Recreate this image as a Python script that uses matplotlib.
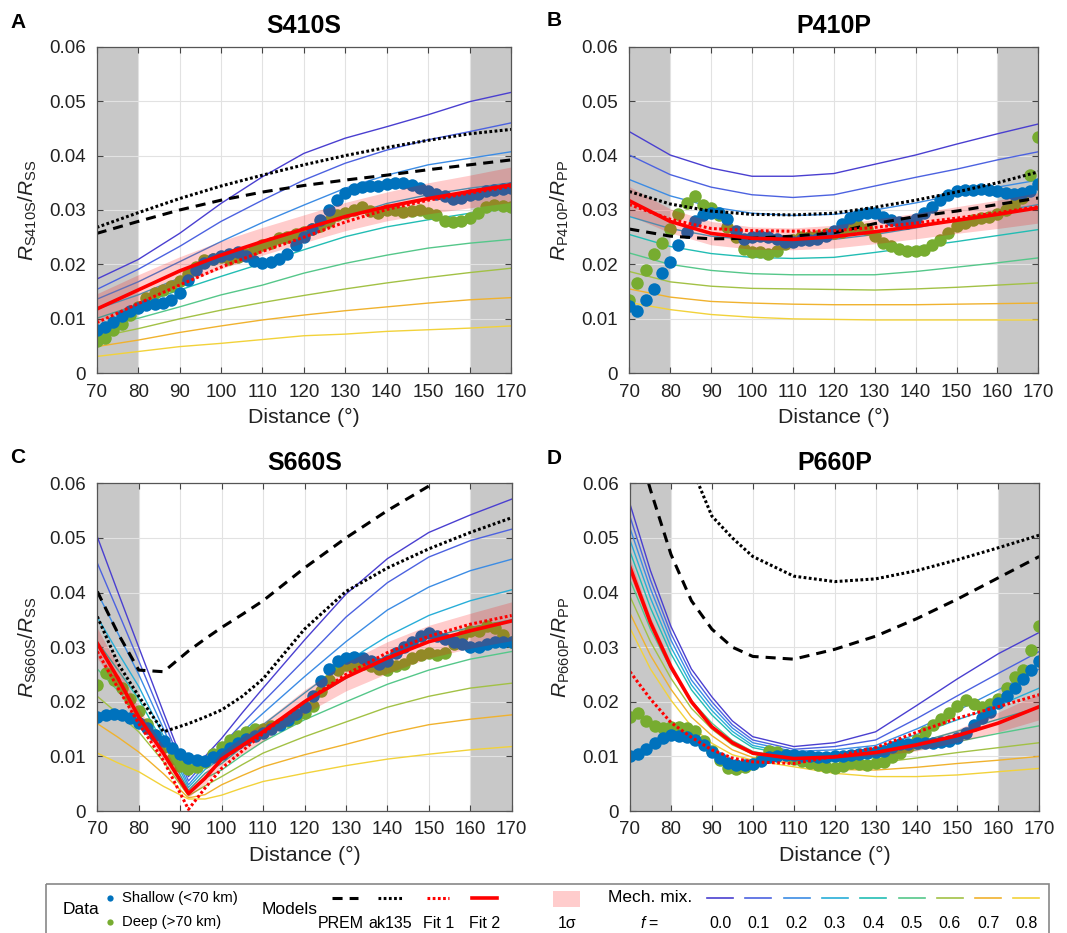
import numpy as np
import matplotlib
matplotlib.use('Agg')
import matplotlib.pyplot as plt
from matplotlib.patches import Rectangle
from matplotlib.ticker import FuncFormatter

plt.rcParams['font.family'] = ['Liberation Sans', 'DejaVu Sans']
plt.rcParams['mathtext.fontset'] = 'custom'
plt.rcParams['mathtext.rm'] = 'Liberation Sans'
plt.rcParams['mathtext.it'] = 'Liberation Sans:italic'

# ---------------- data ----------------
# observed ratios, sampled every 2 degrees from 70 to 170
data_dist = np.arange(70, 171, 2)

blue_a = [0.0080, 0.0085, 0.0095, 0.0105, 0.0115, 0.0120, 0.0125, 0.0128, 0.0130, 0.0135,
          0.0148, 0.0172, 0.0190, 0.0203, 0.0210, 0.0215, 0.0220, 0.0222, 0.0215, 0.0207,
          0.0203, 0.0205, 0.0210, 0.0220, 0.0235, 0.0250, 0.0265, 0.0282, 0.0300, 0.0318,
          0.0332, 0.0338, 0.0342, 0.0344, 0.0345, 0.0347, 0.0350, 0.0350, 0.0346, 0.0340,
          0.0335, 0.0330, 0.0325, 0.0320, 0.0322, 0.0328, 0.0330, 0.0334, 0.0336, 0.0338,
          0.0340]
green_a = [0.0060, 0.0065, 0.0080, 0.0090, 0.0108, 0.0122, 0.0138, 0.0148, 0.0153, 0.0160,
           0.0170, 0.0183, 0.0195, 0.0208, 0.0210, 0.0213, 0.0210, 0.0214, 0.0220, 0.0228,
           0.0235, 0.0240, 0.0248, 0.0250, 0.0255, 0.0260, 0.0265, 0.0270, 0.0280, 0.0290,
           0.0295, 0.0300, 0.0305, 0.0298, 0.0295, 0.0300, 0.0300, 0.0297, 0.0298, 0.0300,
           0.0295, 0.0290, 0.0280, 0.0278, 0.0280, 0.0285, 0.0295, 0.0305, 0.0310, 0.0308,
           0.0305]
blue_b = [0.0123, 0.0115, 0.0135, 0.0155, 0.0185, 0.0205, 0.0235, 0.0260, 0.0280, 0.0290,
          0.0294, 0.0294, 0.0283, 0.0262, 0.0247, 0.0250, 0.0252, 0.0250, 0.0246, 0.0242,
          0.0242, 0.0244, 0.0245, 0.0246, 0.0252, 0.0262, 0.0275, 0.0285, 0.0290, 0.0295,
          0.0294, 0.0288, 0.0282, 0.0278, 0.0276, 0.0284, 0.0294, 0.0305, 0.0318, 0.0328,
          0.0334, 0.0336, 0.0337, 0.0338, 0.0337, 0.0334, 0.0331, 0.0330, 0.0331, 0.0335,
          0.0348]
green_b = [0.0135, 0.0165, 0.0190, 0.0220, 0.0240, 0.0265, 0.0293, 0.0312, 0.0325, 0.0310,
           0.0303, 0.0290, 0.0268, 0.0250, 0.0228, 0.0222, 0.0222, 0.0220, 0.0225, 0.0238,
           0.0245, 0.0250, 0.0250, 0.0252, 0.0255, 0.0258, 0.0260, 0.0265, 0.0270, 0.0265,
           0.0252, 0.0240, 0.0233, 0.0228, 0.0224, 0.0225, 0.0227, 0.0235, 0.0245, 0.0258,
           0.0270, 0.0277, 0.0282, 0.0285, 0.0288, 0.0292, 0.0300, 0.0310, 0.0322, 0.0365,
           0.0435]
blue_c = [0.0172, 0.0175, 0.0177, 0.0175, 0.0170, 0.0162, 0.0152, 0.0140, 0.0128, 0.0115,
          0.0105, 0.0097, 0.0093, 0.0092, 0.0098, 0.0105, 0.0115, 0.0125, 0.0132, 0.0138,
          0.0143, 0.0150, 0.0158, 0.0167, 0.0178, 0.0190, 0.0210, 0.0238, 0.0260, 0.0275,
          0.0280, 0.0282, 0.0280, 0.0275, 0.0270, 0.0275, 0.0290, 0.0300, 0.0310, 0.0320,
          0.0325, 0.0320, 0.0315, 0.0310, 0.0305, 0.0300, 0.0300, 0.0305, 0.0310, 0.0310,
          0.0310]
green_c = [0.0230, 0.0252, 0.0240, 0.0225, 0.0205, 0.0183, 0.0160, 0.0140, 0.0118, 0.0095,
           0.0082, 0.0076, 0.0080, 0.0090, 0.0105, 0.0118, 0.0130, 0.0138, 0.0145, 0.0150,
           0.0150, 0.0155, 0.0160, 0.0165, 0.0170, 0.0180, 0.0192, 0.0220, 0.0240, 0.0258,
           0.0268, 0.0265, 0.0270, 0.0265, 0.0260, 0.0258, 0.0265, 0.0270, 0.0280, 0.0285,
           0.0290, 0.0285, 0.0290, 0.0305, 0.0320, 0.0330, 0.0330, 0.0338, 0.0335, 0.0322,
           0.0310]
blue_d = [0.0100, 0.0105, 0.0113, 0.0124, 0.0134, 0.0139, 0.0138, 0.0135, 0.0130, 0.0120,
          0.0108, 0.0097, 0.0088, 0.0085, 0.0084, 0.0086, 0.0092, 0.0098, 0.0101, 0.0102,
          0.0102, 0.0101, 0.0100, 0.0099, 0.0099, 0.0100, 0.0101, 0.0103, 0.0105, 0.0107,
          0.0108, 0.0110, 0.0117, 0.0123, 0.0123, 0.0124, 0.0124, 0.0124, 0.0126, 0.0128,
          0.0133, 0.0142, 0.0158, 0.0170, 0.0182, 0.0197, 0.0210, 0.0226, 0.0241, 0.0258,
          0.0275]
green_d = [0.0173, 0.0180, 0.0165, 0.0155, 0.0152, 0.0153, 0.0154, 0.0152, 0.0146, 0.0128,
           0.0110, 0.0093, 0.0078, 0.0077, 0.0081, 0.0086, 0.0095, 0.0110, 0.0108, 0.0103,
           0.0096, 0.0091, 0.0088, 0.0085, 0.0081, 0.0079, 0.0083, 0.0088, 0.0086, 0.0085,
           0.0087, 0.0090, 0.0098, 0.0106, 0.0118, 0.0130, 0.0145, 0.0158, 0.0168, 0.0180,
           0.0193, 0.0203, 0.0196, 0.0190, 0.0196, 0.0205, 0.0225, 0.0245, 0.0258, 0.0295,
           0.0338]

# model curves
dist_a = [70, 80, 90, 100, 110, 120, 130, 140, 150, 160, 170]
mech_a = [
    [0.0173, 0.0209, 0.0257, 0.0312, 0.0361, 0.0404, 0.0432, 0.0453, 0.0475, 0.0499, 0.0516],
    [0.0154, 0.0191, 0.0233, 0.0279, 0.0318, 0.0355, 0.0386, 0.0410, 0.0429, 0.0444, 0.0460],
    [0.0136, 0.0168, 0.0205, 0.0242, 0.0277, 0.0309, 0.0340, 0.0364, 0.0383, 0.0395, 0.0407],
    [0.0118, 0.0144, 0.0175, 0.0208, 0.0236, 0.0263, 0.0288, 0.0312, 0.0328, 0.0340, 0.0350],
    [0.0101, 0.0126, 0.0153, 0.0178, 0.0202, 0.0227, 0.0251, 0.0269, 0.0282, 0.0294, 0.0303],
    [0.0083, 0.0101, 0.0122, 0.0144, 0.0162, 0.0184, 0.0202, 0.0217, 0.0230, 0.0239, 0.0246],
    [0.0066, 0.0082, 0.0100, 0.0116, 0.0130, 0.0143, 0.0155, 0.0166, 0.0176, 0.0185, 0.0193],
    [0.0049, 0.0061, 0.0075, 0.0087, 0.0098, 0.0107, 0.0115, 0.0122, 0.0129, 0.0135, 0.0139],
    [0.0031, 0.0040, 0.0049, 0.0055, 0.0062, 0.0069, 0.0072, 0.0077, 0.0080, 0.0083, 0.0087],
]
prem_a = [0.0257, 0.0279, 0.0300, 0.0318, 0.0333, 0.0345, 0.0355, 0.0364, 0.0374, 0.0383, 0.0392]
ak135_a = [0.0268, 0.0295, 0.0321, 0.0344, 0.0364, 0.0383, 0.0400, 0.0415, 0.0428, 0.0440, 0.0448]
fit1_a = [0.0093, 0.0128, 0.0162, 0.0195, 0.0224, 0.0250, 0.0278, 0.0301, 0.0318, 0.0331, 0.0343]
fit2_a = [0.0118, 0.0153, 0.0188, 0.0217, 0.0242, 0.0265, 0.0288, 0.0306, 0.0321, 0.0334, 0.0346]
lo_a = [0.0092, 0.0126, 0.0163, 0.0192, 0.0217, 0.0240, 0.0262, 0.0280, 0.0293, 0.0304, 0.0314]
hi_a = [0.0146, 0.0181, 0.0214, 0.0243, 0.0268, 0.0291, 0.0314, 0.0333, 0.0350, 0.0364, 0.0379]

dist_b = [70, 80, 90, 100, 110, 120, 130, 140, 150, 160, 170]
mech_b = [
    [0.0444, 0.0401, 0.0377, 0.0362, 0.0362, 0.0367, 0.0384, 0.0401, 0.0421, 0.0440, 0.0458],
    [0.0401, 0.0365, 0.0342, 0.0328, 0.0323, 0.0328, 0.0344, 0.0360, 0.0375, 0.0392, 0.0407],
    [0.0356, 0.0326, 0.0306, 0.0294, 0.0290, 0.0292, 0.0300, 0.0313, 0.0328, 0.0342, 0.0355],
    [0.0288, 0.0266, 0.0252, 0.0245, 0.0243, 0.0246, 0.0255, 0.0267, 0.0282, 0.0297, 0.0310],
    [0.0255, 0.0233, 0.0220, 0.0213, 0.0211, 0.0213, 0.0222, 0.0232, 0.0242, 0.0253, 0.0264],
    [0.0221, 0.0200, 0.0189, 0.0183, 0.0181, 0.0181, 0.0181, 0.0187, 0.0195, 0.0203, 0.0212],
    [0.0187, 0.0168, 0.0160, 0.0156, 0.0155, 0.0154, 0.0153, 0.0155, 0.0158, 0.0162, 0.0166],
    [0.0155, 0.0140, 0.0132, 0.0129, 0.0127, 0.0126, 0.0126, 0.0126, 0.0127, 0.0128, 0.0129],
    [0.0130, 0.0117, 0.0108, 0.0103, 0.0100, 0.0099, 0.0098, 0.0098, 0.0098, 0.0098, 0.0098],
]
prem_b = [0.0265, 0.0252, 0.0247, 0.0248, 0.0252, 0.0258, 0.0275, 0.0288, 0.0298, 0.0310, 0.0322]
ak135_b = [0.0334, 0.0311, 0.0298, 0.0292, 0.0291, 0.0294, 0.0305, 0.0318, 0.0333, 0.0350, 0.0370]
fit1_b = [0.0310, 0.0283, 0.0266, 0.0262, 0.0261, 0.0262, 0.0268, 0.0276, 0.0285, 0.0295, 0.0306]
fit2_b = [0.0317, 0.0279, 0.0257, 0.0248, 0.0246, 0.0251, 0.0260, 0.0270, 0.0281, 0.0292, 0.0304]
lo_b = [0.0290, 0.0258, 0.0236, 0.0228, 0.0227, 0.0230, 0.0238, 0.0247, 0.0257, 0.0266, 0.0276]
hi_b = [0.0343, 0.0302, 0.0279, 0.0269, 0.0267, 0.0272, 0.0283, 0.0294, 0.0306, 0.0318, 0.0332]

dist_c = [70, 75, 80, 86, 92, 96, 100, 105, 110, 120, 130, 140, 150, 160, 170]
mech_c = [
    [0.0502, 0.0400, 0.0300, 0.0180, 0.0063, 0.0100, 0.0133, 0.0180, 0.0225, 0.0313, 0.0397, 0.0462, 0.0510, 0.0542, 0.0571],
    [0.0454, 0.0365, 0.0275, 0.0165, 0.0055, 0.0090, 0.0120, 0.0160, 0.0200, 0.0277, 0.0355, 0.0418, 0.0465, 0.0495, 0.0516],
    [0.0400, 0.0325, 0.0250, 0.0150, 0.0048, 0.0083, 0.0109, 0.0145, 0.0179, 0.0246, 0.0310, 0.0368, 0.0410, 0.0440, 0.0461],
    [0.0355, 0.0290, 0.0228, 0.0137, 0.0043, 0.0076, 0.0097, 0.0130, 0.0158, 0.0216, 0.0273, 0.0320, 0.0358, 0.0385, 0.0405],
    [0.0310, 0.0258, 0.0205, 0.0123, 0.0038, 0.0069, 0.0087, 0.0117, 0.0142, 0.0197, 0.0243, 0.0285, 0.0318, 0.0336, 0.0350],
    [0.0260, 0.0220, 0.0178, 0.0108, 0.0033, 0.0060, 0.0075, 0.0102, 0.0127, 0.0167, 0.0200, 0.0232, 0.0258, 0.0278, 0.0292],
    [0.0210, 0.0178, 0.0145, 0.0090, 0.0028, 0.0046, 0.0063, 0.0085, 0.0106, 0.0136, 0.0163, 0.0190, 0.0210, 0.0225, 0.0234],
    [0.0160, 0.0135, 0.0108, 0.0068, 0.0024, 0.0030, 0.0048, 0.0065, 0.0081, 0.0103, 0.0122, 0.0142, 0.0158, 0.0168, 0.0176],
    [0.0106, 0.0088, 0.0072, 0.0045, 0.0022, 0.0022, 0.0029, 0.0042, 0.0054, 0.0069, 0.0083, 0.0095, 0.0104, 0.0112, 0.0118],
]
prem_c = [0.0402, 0.0325, 0.0258, 0.0255, 0.0293, 0.0315, 0.0336, 0.0360, 0.0385, 0.0445, 0.0500, 0.0550, 0.0595, 0.0640, 0.0680]
ak135_c = [0.0356, 0.0270, 0.0210, 0.0145, 0.0160, 0.0172, 0.0185, 0.0210, 0.0242, 0.0333, 0.0402, 0.0445, 0.0480, 0.0510, 0.0537]
fit1_c = [0.0292, 0.0225, 0.0160, 0.0092, 0.0003, 0.0042, 0.0078, 0.0110, 0.0142, 0.0200, 0.0250, 0.0290, 0.0320, 0.0342, 0.0358]
fit2_c = [0.0307, 0.0243, 0.0172, 0.0105, 0.0032, 0.0060, 0.0095, 0.0120, 0.0145, 0.0200, 0.0245, 0.0280, 0.0310, 0.0330, 0.0348]
lo_c = [0.0280, 0.0222, 0.0158, 0.0093, 0.0025, 0.0050, 0.0082, 0.0105, 0.0128, 0.0178, 0.0220, 0.0252, 0.0280, 0.0298, 0.0312]
hi_c = [0.0335, 0.0265, 0.0188, 0.0118, 0.0042, 0.0072, 0.0108, 0.0136, 0.0162, 0.0222, 0.0272, 0.0310, 0.0340, 0.0362, 0.0383]

dist_d = [70, 75, 80, 85, 90, 95, 100, 110, 120, 130, 140, 150, 160, 170]
mech_d = [
    [0.0562, 0.0440, 0.0338, 0.0260, 0.0209, 0.0165, 0.0136, 0.0118, 0.0125, 0.0145, 0.0193, 0.0242, 0.0288, 0.0327],
    [0.0539, 0.0423, 0.0325, 0.0250, 0.0200, 0.0158, 0.0130, 0.0113, 0.0118, 0.0130, 0.0169, 0.0211, 0.0252, 0.0292],
    [0.0518, 0.0407, 0.0313, 0.0240, 0.0192, 0.0152, 0.0125, 0.0109, 0.0112, 0.0120, 0.0150, 0.0184, 0.0222, 0.0260],
    [0.0496, 0.0390, 0.0300, 0.0231, 0.0184, 0.0146, 0.0120, 0.0105, 0.0106, 0.0115, 0.0140, 0.0167, 0.0193, 0.0225],
    [0.0475, 0.0372, 0.0288, 0.0222, 0.0176, 0.0140, 0.0116, 0.0101, 0.0100, 0.0108, 0.0125, 0.0146, 0.0168, 0.0190],
    [0.0423, 0.0333, 0.0260, 0.0202, 0.0161, 0.0129, 0.0109, 0.0095, 0.0090, 0.0098, 0.0112, 0.0127, 0.0142, 0.0156],
    [0.0393, 0.0310, 0.0243, 0.0188, 0.0150, 0.0121, 0.0104, 0.0091, 0.0083, 0.0088, 0.0097, 0.0107, 0.0116, 0.0125],
    [0.0362, 0.0285, 0.0223, 0.0172, 0.0138, 0.0112, 0.0098, 0.0086, 0.0076, 0.0075, 0.0080, 0.0087, 0.0093, 0.0100],
    [0.0335, 0.0260, 0.0203, 0.0155, 0.0124, 0.0103, 0.0093, 0.0081, 0.0069, 0.0063, 0.0063, 0.0066, 0.0072, 0.0078],
]
prem_d = [0.0720, 0.0588, 0.0470, 0.0385, 0.0333, 0.0300, 0.0283, 0.0278, 0.0296, 0.0320, 0.0352, 0.0388, 0.0427, 0.0466]
ak135_d = [np.nan, np.nan, np.nan, 0.0630, 0.0540, 0.0500, 0.0466, 0.0430, 0.0420, 0.0425, 0.0440, 0.0460, 0.0482, 0.0505]
fit1_d = [0.0255, 0.0205, 0.0162, 0.0135, 0.0112, 0.0097, 0.0090, 0.0087, 0.0100, 0.0116, 0.0144, 0.0170, 0.0191, 0.0213]
fit2_d = [0.0446, 0.0345, 0.0264, 0.0200, 0.0154, 0.0125, 0.0106, 0.0096, 0.0099, 0.0107, 0.0121, 0.0138, 0.0161, 0.0191]
lo_d = [0.0430, 0.0335, 0.0256, 0.0195, 0.0150, 0.0122, 0.0104, 0.0094, 0.0097, 0.0101, 0.0110, 0.0126, 0.0145, 0.0167]
hi_d = [0.0462, 0.0355, 0.0272, 0.0205, 0.0158, 0.0128, 0.0108, 0.0098, 0.0103, 0.0111, 0.0126, 0.0150, 0.0181, 0.0215]

f_labels = ['0.0', '0.1', '0.2', '0.3', '0.4', '0.5', '0.6', '0.7', '0.8']
mech_colors = ['#4a3fd0', '#4c62e0', '#3c8ce4', '#28aed8', '#22bdb4', '#55c78a',
               '#a2c145', '#f0b22e', '#f2d23a']
c_blue = '#0072BD'
c_green = '#77AC30'

# ---------------- figure ----------------
W, H = 1067, 933
fig = plt.figure(figsize=(W / 100, H / 100), dpi=100)
PX = 0.72  # points per pixel


def px_axes(x0, y0, x1, y1):
    return fig.add_axes([x0 / W, 1 - y1 / H, (x1 - x0) / W, (y1 - y0) / H])


def panel(ax, blue, green, dist, mech, prem, ak135, fit1, fit2, lo, hi,
          title, ylab, letter, letter_xy):
    ax.set_xlim(70, 170)
    ax.set_ylim(0, 0.06)
    ax.axvspan(70, 80, color='#c8c8c8', lw=0, zorder=0.5)
    ax.axvspan(160, 170, color='#c8c8c8', lw=0, zorder=0.5)
    ax.grid(True, color='#e2e2e2', lw=0.8, zorder=0.2)
    ax.set_axisbelow(True)

    for vals, col in zip(mech, mech_colors):
        ax.plot(dist, vals, color=col, lw=1.0, zorder=2)
    ax.plot(data_dist, green, 'o', color=c_green, ms=9, mew=0, zorder=3)
    ax.plot(data_dist, blue, 'o', color=c_blue, ms=9, mew=0, zorder=3.1)
    ax.fill_between(dist, lo, hi, color='red', alpha=0.2, lw=0, zorder=4)
    ax.plot(dist, prem, color='black', lw=2.2, dashes=(3.3, 2.3), zorder=5)
    ax.plot(dist, ak135, color='black', lw=2.2, dashes=(0.9, 0.8), zorder=5)
    ax.plot(dist, fit1, color='red', lw=2.2, dashes=(0.9, 0.8), zorder=6)
    ax.plot(dist, fit2, color='red', lw=2.6, zorder=6)

    ax.set_xticks(range(70, 171, 10))
    ax.set_yticks([0, 0.01, 0.02, 0.03, 0.04, 0.05, 0.06])
    ax.yaxis.set_major_formatter(FuncFormatter(lambda v, p: '0' if v == 0 else f'{v:.2f}'))
    ax.tick_params(direction='in', top=True, right=True, length=4, width=0.8,
                   color='#444444', labelsize=13.5, labelcolor='#222222')
    ax.tick_params(axis='x', pad=7.5)
    ax.tick_params(axis='y', pad=8)
    for s in ax.spines.values():
        s.set_color('#555555')
        s.set_linewidth(0.9)
        s.set_zorder(7)

    ax.annotate(title, xy=(0.5, 1), xycoords='axes fraction', xytext=(0, 20.5 * PX),
                textcoords='offset points', ha='center', va='center',
                fontsize=18, fontweight='bold')
    ax.annotate('Distance (°)', xy=(0.5, 0), xycoords='axes fraction',
                xytext=(0, -44 * PX), textcoords='offset points',
                ha='center', va='center', fontsize=15.4, color='#222222')
    ax.annotate(ylab, xy=(0, 0.5), xycoords='axes fraction', xytext=(-69 * PX, 0),
                textcoords='offset points', ha='center', va='center',
                rotation=90, fontsize=15, color='#222222')
    fig.text(letter_xy[0] / W, 1 - letter_xy[1] / H, letter, fontsize=15,
             fontweight='bold', ha='center', va='center')


ax_a = px_axes(96.7, 46.7, 511.0, 373.3)
ax_b = px_axes(629.3, 46.7, 1038.3, 373.3)
ax_c = px_axes(97.3, 483.3, 511.7, 811.0)
ax_d = px_axes(630.0, 483.3, 1039.3, 811.0)

panel(ax_a, blue_a, green_a, dist_a, mech_a, prem_a, ak135_a, fit1_a, fit2_a, lo_a, hi_a,
      'S410S', r'$R_{\mathrm{S410S}}/R_{\mathrm{SS}}$', 'A', (18, 22))
panel(ax_b, blue_b, green_b, dist_b, mech_b, prem_b, ak135_b, fit1_b, fit2_b, lo_b, hi_b,
      'P410P', r'$R_{\mathrm{P410P}}/R_{\mathrm{PP}}$', 'B', (554, 21))
panel(ax_c, blue_c, green_c, dist_c, mech_c, prem_c, ak135_c, fit1_c, fit2_c, lo_c, hi_c,
      'S660S', r'$R_{\mathrm{S660S}}/R_{\mathrm{SS}}$', 'C', (18, 457))
panel(ax_d, blue_d, green_d, dist_d, mech_d, prem_d, ak135_d, fit1_d, fit2_d, lo_d, hi_d,
      'P660P', r'$R_{\mathrm{P660P}}/R_{\mathrm{PP}}$', 'D', (554, 458))

# ---------------- legend box (pixel coordinates) ----------------
lax = fig.add_axes([0, 0, 1, 1])
lax.set_xlim(0, W)
lax.set_ylim(H, 0)
lax.axis('off')
lax.add_patch(Rectangle((46, 884), 1003, 80, fill=False, edgecolor='#888888', lw=1.2))

y1, y2 = 898, 922
lax.text(63, 910, 'Data', fontsize=12.5, ha='left', va='center')
lax.plot([110], [y1], 'o', color=c_blue, ms=4.5, mew=0)
lax.plot([110], [y2], 'o', color=c_green, ms=4.5, mew=0)
lax.text(122, y1, 'Shallow (<70 km)', fontsize=10.7, ha='left', va='center')
lax.text(122, y2, 'Deep (>70 km)', fontsize=10.7, ha='left', va='center')

lax.text(262, 910, 'Models', fontsize=12.5, ha='left', va='center')
lax.plot([332, 358], [y1, y1], color='black', lw=2.2, dashes=(3.3, 2.3))
lax.text(341, y2 + 1, 'PREM', fontsize=11.5, ha='center', va='center')
lax.plot([378, 402], [y1, y1], color='black', lw=2.2, dashes=(0.9, 0.8))
lax.text(390, y2 + 1, 'ak135', fontsize=11.5, ha='center', va='center')
lax.plot([427, 449], [y1, y1], color='red', lw=2.2, dashes=(0.9, 0.8))
lax.text(439, y2 + 1, 'Fit 1', fontsize=11.5, ha='center', va='center')
lax.plot([472, 497], [y1, y1], color='red', lw=2.6)
lax.text(485, y2 + 1, 'Fit 2', fontsize=11.5, ha='center', va='center')
lax.add_patch(Rectangle((553, 891), 27, 16, color='red', alpha=0.2, lw=0))
lax.text(567, y2 + 1, '1σ', fontsize=11.5, ha='center', va='center')

lax.text(608, y1, 'Mech. mix.', fontsize=12.5, ha='left', va='center')
lax.text(650, y2 + 1, r'$f$ =', fontsize=11.5, ha='center', va='center')
for i, (lab, col) in enumerate(zip(f_labels, mech_colors)):
    cx = 720 + i * 38.3
    lax.plot([cx - 13, cx + 13], [y1, y1], color=col, lw=1.2)
    lax.text(cx, y2 + 1, lab, fontsize=11.5, ha='center', va='center')

fig.savefig('out.png', dpi=100)
